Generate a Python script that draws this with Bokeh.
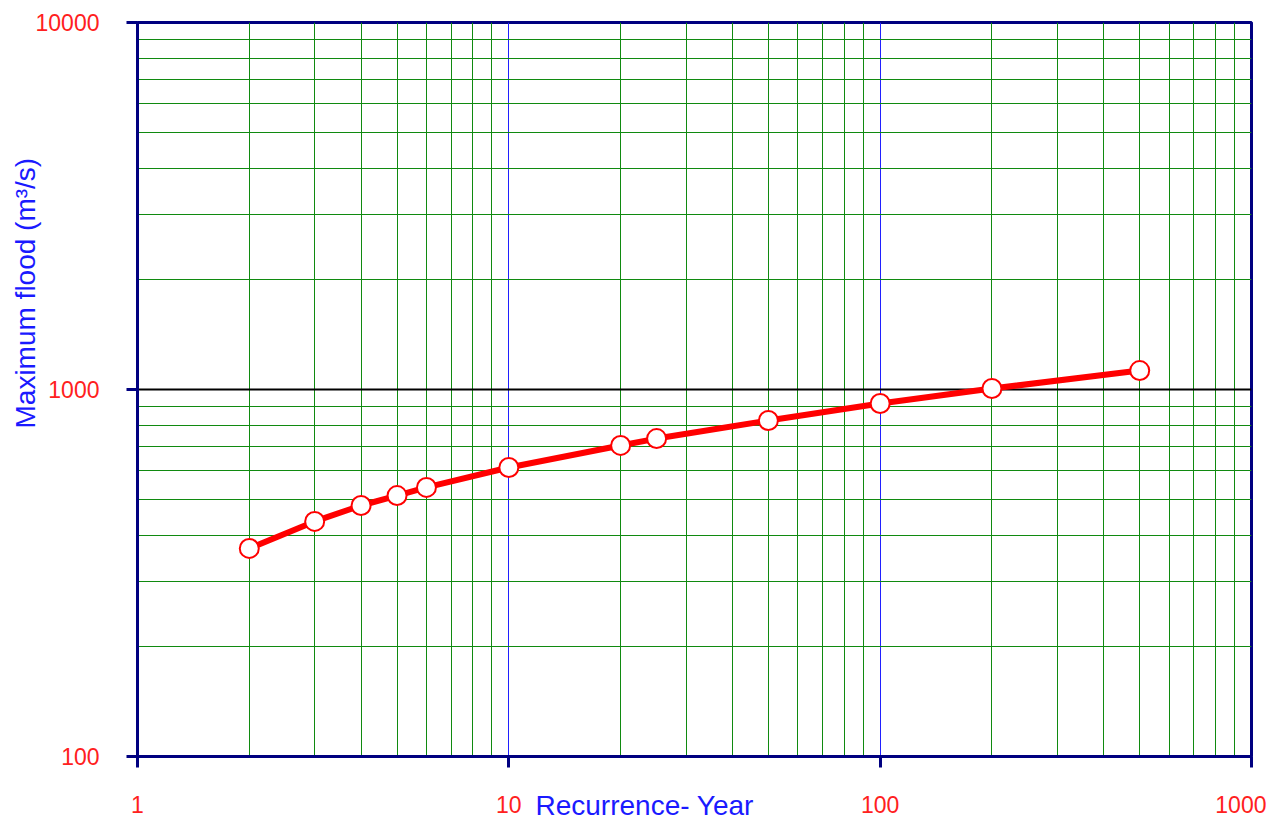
from bokeh.plotting import figure
from bokeh.models import Range1d, FixedTicker, BasicTickFormatter, Title
from bokeh.embed import file_html
from bokeh.resources import INLINE

# Data
recurrence_years = [2, 3, 4, 5, 6, 10, 20, 25, 50, 100, 200, 500]
max_flood = [369, 437, 483, 514, 541, 613, 704, 735, 823, 916, 1006, 1126]

x_major_ticks = [1, 10, 100, 1000]
y_major_ticks = [100, 1000, 10000]
x_label = "Recurrence- Year"
y_label = "Maximum flood (m³/s)"

FONT = "Liberation Sans"
NAVY = "#000080"

x_minor = [m * d for d in x_major_ticks[:-1] for m in range(2, 10)]
y_minor = [m * d for d in y_major_ticks[:-1] for m in range(2, 10)]

p = figure(
    width=1266, height=823,
    x_axis_type="log", y_axis_type="log",
    x_range=Range1d(1, 1000), y_range=Range1d(100, 10000),
    output_backend="svg", toolbar_location=None,
    min_border_left=137, min_border_top=22, min_border_right=15, min_border_bottom=67,
)
p.background_fill_color = "white"
p.border_fill_color = "white"
p.outline_line_color = NAVY
p.outline_line_width = 3

p.xaxis.ticker = FixedTicker(ticks=x_major_ticks, minor_ticks=x_minor)
p.yaxis.ticker = FixedTicker(ticks=y_major_ticks, minor_ticks=y_minor)

for ax in (p.xaxis, p.yaxis):
    ax.formatter = BasicTickFormatter(use_scientific=False)
    ax.axis_line_color = NAVY
    ax.axis_line_width = 3
    ax.major_tick_line_color = NAVY
    ax.major_tick_line_width = 3
    ax.major_tick_out = 11
    ax.major_tick_in = 0
    ax.minor_tick_line_color = None
    ax.major_label_text_font = FONT
    ax.major_label_text_font_size = "23px"
    ax.major_label_text_color = "#ff2020"
p.xaxis.major_label_standoff = 28
p.yaxis.major_label_standoff = 27

p.xgrid.grid_line_color = "#2020ff"
p.xgrid.grid_line_width = 1
p.xgrid.minor_grid_line_color = "#108a10"
p.xgrid.minor_grid_line_width = 1
p.ygrid.grid_line_color = "black"
p.ygrid.grid_line_width = 2
p.ygrid.minor_grid_line_color = "#108a10"
p.ygrid.minor_grid_line_width = 1

p.line(recurrence_years, max_flood, line_color="red", line_width=6)
p.scatter(recurrence_years, max_flood, size=19, fill_color="white",
          line_color="red", line_width=2)

p.add_layout(Title(text=x_label, align="left", vertical_align="top", offset=398,
                   standoff=-52, text_font=FONT, text_font_size="28px",
                   text_font_style="normal", text_color="#1a1aff"), "below")
p.add_layout(Title(text=y_label, align="left", offset=328, standoff=-17,
                   text_font=FONT, text_font_size="28px", text_font_style="normal",
                   text_color="#1a1aff"), "left")

open("out.html", "w").write(file_html(p, INLINE))
